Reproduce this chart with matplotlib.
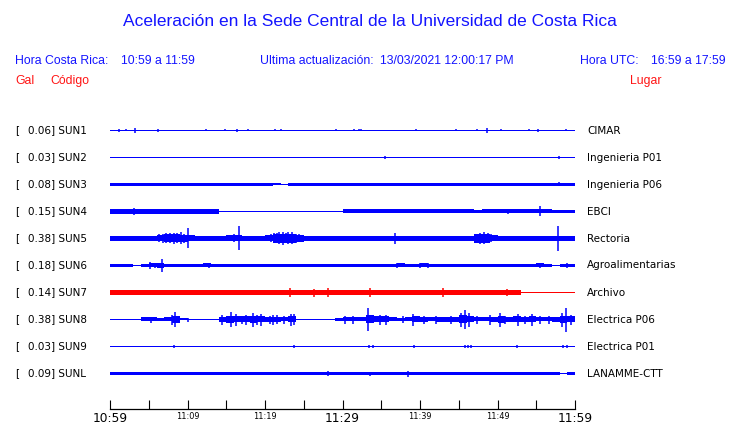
import matplotlib
matplotlib.use('Agg')
import matplotlib.pyplot as plt
import numpy as np

# ---------------- data ----------------
codes = ['SUN1', 'SUN2', 'SUN3', 'SUN4', 'SUN5', 'SUN6', 'SUN7', 'SUN8', 'SUN9', 'SUNL']
places = ['CIMAR', 'Ingenieria P01', 'Ingenieria P06', 'EBCI', 'Rectoria',
          'Agroalimentarias', 'Archivo', 'Electrica P06', 'Electrica P01', 'LANAMME-CTT']
peak_gal = [0.06, 0.03, 0.08, 0.15, 0.38, 0.18, 0.14, 0.38, 0.03, 0.09]
trace_colors = ['#0000ff'] * 6 + ['#ff0000'] + ['#0000ff'] * 3

tick_minutes = [0, 5, 10, 15, 20, 25, 30, 35, 40, 45, 50, 55, 60]
tick_labels = ['10:59', '', '11:09', '', '11:19', '', '11:29', '', '11:39', '', '11:49', '', '11:59']
big_labels = ['10:59', '11:29', '11:59']

# per-minute envelope half-width (relative amplitude), 60 minutes
sun1_env = [0] * 60
sun2_env = [0] * 60
sun3_env = [1.8, 1.5, 1.1, 1.2, 1.8, 1.8, 1.8, 1.8, 1.8, 1.8,
            1.8, 1.8, 1.8, 1.8, 1.5, 1.5, 1.8, 1.8, 1.8, 1.1,
            1.1, 1.0, 0.9, 1.3, 1.8, 1.8, 1.8, 1.8, 1.8, 1.8,
            1.8, 1.8, 1.8, 1.8, 1.8, 1.8, 1.8, 1.8, 1.8, 1.8,
            1.2, 1.2, 1.1, 1.1, 1.1, 1.2, 1.3, 1.8, 1.8, 1.8,
            1.1, 1.8, 1.8, 1.8, 1.8, 1.8, 1.8, 1.8, 1.8, 1.8]
sun4_env = [2.5, 2.5, 2.4, 2.5, 2.4, 2.4, 2.4, 2.4, 2.4, 2.5,
            2.5, 2.6, 2.5, 2.4, 0, 0, 0, 0, 0, 0,
            0, 0, 0, 0, 0, 0, 0, 0, 0, 0.3,
            2.0, 2.0, 2.0, 2.0, 2.0, 2.0, 2.0, 2.0, 2.0, 2.0,
            2.0, 2.0, 2.0, 2.0, 2.0, 2.0, 2.0, 1.6, 2.0, 2.0,
            2.0, 2.0, 2.0, 2.0, 2.0, 2.0, 2.0, 1.6, 1.5, 1.6]
sun5_env = [2.4, 2.7, 2.4, 2.3, 2.4, 2.3, 3.0, 4.0, 4.0, 3.5,
            3.0, 2.4, 2.4, 2.4, 2.4, 3.0, 3.0, 2.4, 2.3, 2.4,
            3.0, 4.5, 4.5, 4.5, 3.5, 2.4, 2.4, 2.4, 2.6, 2.4,
            2.4, 2.4, 2.4, 2.4, 2.4, 2.4, 2.6, 2.4, 2.4, 2.4,
            2.4, 2.4, 2.4, 2.4, 2.4, 2.4, 2.4, 4.5, 4.5, 3.0,
            2.4, 2.4, 2.4, 2.4, 2.4, 2.4, 2.4, 2.4, 2.4, 2.4]
sun6_env = [1.5, 1.7, 1.7, 0.6, 1.5, 2.0, 2.5, 1.8, 1.8, 1.7,
            1.8, 1.8, 2.0, 1.8, 1.5, 1.7, 1.5, 1.8, 1.8, 1.8,
            1.8, 1.5, 1.7, 1.5, 1.8, 1.8, 1.8, 1.8, 1.8, 1.8,
            1.7, 1.8, 1.8, 1.8, 1.8, 1.7, 1.8, 2.0, 1.8, 1.8,
            2.0, 1.8, 1.5, 1.7, 1.8, 1.8, 1.8, 1.8, 1.8, 1.8,
            1.7, 1.8, 1.8, 1.8, 1.8, 2.0, 1.8, 0.9, 1.5, 1.8]
sun7_env = [2.3, 2.1, 2.1, 2.1, 2.1, 2.1, 2.1, 2.1, 2.1, 2.1,
            2.1, 2.1, 2.1, 2.1, 2.1, 2.1, 2.1, 2.1, 2.1, 2.1,
            2.1, 2.1, 2.1, 2.1, 2.1, 2.1, 2.1, 2.1, 2.1, 2.1,
            2.1, 2.1, 2.1, 2.1, 2.1, 2.1, 2.1, 2.1, 2.1, 2.1,
            2.1, 2.1, 2.1, 2.1, 2.1, 2.1, 2.1, 2.1, 2.1, 2.1,
            2.1, 2.1, 2.1, 0, 0, 0, 0, 0, 0, 0]
sun8_env = [0, 0, 0, 0, 2.0, 2.0, 1.8, 2.0, 3.5, 1.0,
            0.4, 0, 0, 0, 2.5, 3.5, 3.0, 3.0, 3.5, 3.0,
            2.5, 2.5, 2.0, 3.0, 0.5, 0, 0, 0, 0, 1.5,
            2.0, 2.0, 2.0, 4.0, 3.0, 3.0, 2.0, 1.5, 2.0, 3.0,
            2.5, 2.0, 2.5, 2.5, 2.5, 4.0, 3.0, 2.0, 2.0, 2.5,
            3.5, 2.5, 3.0, 2.5, 3.0, 2.0, 2.0, 2.5, 3.5, 3.0]
sun9_env = [0] * 60
sunl_env = [1.7, 1.7, 1.7, 1.7, 1.7, 1.7, 1.7, 1.7, 1.7, 1.7,
            1.7, 1.7, 1.7, 1.7, 1.7, 1.7, 1.7, 1.7, 1.7, 1.6,
            1.7, 1.7, 1.7, 1.7, 1.6, 1.7, 1.7, 1.7, 1.8, 1.6,
            1.7, 1.5, 1.3, 1.5, 1.3, 1.2, 1.3, 1.2, 1.5, 1.2,
            1.1, 1.2, 1.3, 1.1, 1.2, 1.2, 1.1, 1.2, 1.2, 1.1,
            1.2, 1.2, 1.1, 1.2, 1.2, 1.1, 1.1, 1.2, 1.0, 1.1]

# spikes: (minute, half-amplitude)
sun1_spk = [(1.1, 1.5), (2.1, 0.8), (3.2, 2.5), (6.2, 1.2), (12.4, 1.0), (14.9, 0.8),
            (16.4, 1.3), (17.8, 1.0), (21.3, 1.0), (22.1, 1.0), (29.2, 1.0), (31.5, 1.0),
            (32.1, 0.8), (32.4, 1.0), (39.5, 1.0), (44.7, 0.6), (47.4, 1.0), (48.7, 2.5),
            (50.4, 1.0), (54.1, 1.0), (55.2, 1.4), (58.9, 0.7)]
sun2_spk = [(35.5, 1.5), (57.9, 1.5)]
sun3_spk = [(57.9, 2.0)]
sun4_spk = [(3.1, 3.5), (9.9, 2.0), (11.0, 2.2), (11.6, 2.0), (13.0, 2.2), (33.3, 1.8),
            (37.8, 1.8), (43.3, 1.8), (51.4, 2.5), (55.5, 5.0)]
sun5_spk = [(1.2, 2.5), (4.0, 2.5), (6.3, 4.0), (6.8, 4.5), (7.2, 5.0), (7.7, 5.0),
            (8.2, 5.5), (8.7, 5.0), (9.2, 6.0), (9.6, 4.5), (10.1, 10.0), (13.5, 2.5),
            (16.0, 4.0), (16.6, 12.0), (20.8, 4.0), (21.2, 5.0), (21.5, 5.0), (21.8, 6.0),
            (22.3, 6.5), (22.7, 5.0), (23.0, 6.0), (23.5, 6.0), (24.0, 4.5), (24.4, 4.0),
            (28.5, 2.5), (31.6, 2.5), (36.8, 5.5), (47.3, 4.5), (47.8, 5.5), (48.3, 6.0),
            (48.8, 5.0), (49.2, 4.0), (57.8, 12.5)]
sun6_spk = [(2.6, 1.8), (5.2, 4.0), (5.8, 3.0), (6.75, 6.3), (12.8, 2.0), (37.0, 2.0),
            (40.0, 2.0), (41.0, 2.0), (55.5, 3.0), (59.0, 3.0)]
sun7_spk = [(5.5, 2.0), (6.7, 2.0), (10.3, 3.0), (17.4, 2.5), (20.6, 2.0), (23.2, 4.7),
            (24.3, 2.5), (26.3, 4.0), (28.1, 4.5), (33.6, 4.5), (43.0, 4.5), (47.4, 2.5),
            (51.2, 3.5)]
sun8_spk = [(5.3, 3.0), (8.0, 5.0), (8.4, 8.0), (10.0, 2.0), (14.5, 5.0), (15.6, 8.0),
            (16.2, 6.0), (17.0, 4.0), (17.5, 5.0), (18.5, 7.0), (19.0, 5.0), (19.5, 6.0),
            (20.7, 4.0), (21.0, 5.0), (21.6, 4.5), (22.5, 4.0), (23.3, 6.0), (23.8, 5.5),
            (30.3, 4.0), (31.4, 4.0), (33.3, 11.7), (34.8, 5.0), (35.6, 5.0), (37.8, 3.5),
            (39.1, 6.0), (40.5, 4.0), (42.0, 4.0), (44.0, 4.0), (45.3, 7.0), (45.8, 9.5),
            (46.3, 7.0), (47.3, 4.0), (49.0, 5.0), (50.3, 7.0), (51.0, 4.0), (52.6, 6.0),
            (53.5, 4.0), (54.5, 6.0), (55.5, 4.0), (56.7, 4.0), (58.3, 7.0), (58.8, 12.0),
            (59.5, 5.0)]
sun9_spk = [(8.3, 1.5), (14.9, 1.0), (15.6, 1.0), (17.0, 1.0), (17.6, 1.0), (18.5, 1.0),
            (19.6, 1.0), (23.7, 1.5), (33.4, 1.5), (33.9, 1.2), (35.0, 1.0), (39.2, 1.5),
            (45.8, 1.5), (46.2, 1.5), (46.6, 1.5), (49.7, 1.0), (50.2, 1.0), (52.5, 1.2),
            (54.5, 1.0), (58.5, 1.3), (59.0, 1.3)]
sunl_spk = [(28.1, 2.5), (33.5, 2.0), (38.5, 3.0)]

envelopes = [sun1_env, sun2_env, sun3_env, sun4_env, sun5_env,
             sun6_env, sun7_env, sun8_env, sun9_env, sunl_env]
spikes = [sun1_spk, sun2_spk, sun3_spk, sun4_spk, sun5_spk,
          sun6_spk, sun7_spk, sun8_spk, sun9_spk, sunl_spk]

# ---------------- figure ----------------
W, H = 740, 423
fig = plt.figure(figsize=(W / 100, H / 100), dpi=100)
fig.patch.set_facecolor('white')

ax_left, ax_right = 110, 575
ax_top, ax_bottom = 118, 409
ax = fig.add_axes([ax_left / W, (H - ax_bottom) / H,
                   (ax_right - ax_left) / W, (ax_bottom - ax_top) / H])
spacing_px = 27.0
first_center = 130.5
y_top = -(first_center - ax_top) / spacing_px
y_bot = (ax_bottom - first_center) / spacing_px
ax.set_xlim(0, 60)
ax.set_ylim(y_bot, y_top)

scale = 1.0 / spacing_px          # amplitude unit = one pixel
min_half = 0.5 * scale            # one-pixel baseline
minutes = np.arange(61)
for i, (env, spk, col) in enumerate(zip(envelopes, spikes, trace_colors)):
    e = np.maximum(np.array(env + [env[-1]], dtype=float) * scale, min_half)
    ax.fill_between(minutes, i - e, i + e, step='post', color=col, lw=0)
    if spk:
        ts = [s[0] for s in spk]
        amps = [max(s[1], 1.0) * scale for s in spk]
        ax.vlines(ts, [i - a for a in amps], [i + a for a in amps], color=col, lw=1.1)

for s in ['top', 'left', 'right']:
    ax.spines[s].set_visible(False)
ax.spines['bottom'].set_linewidth(0.9)
ax.set_yticks([])
ax.set_xticks(tick_minutes)
ax.set_xticklabels(tick_labels, family='DejaVu Sans')
ax.tick_params(axis='x', direction='in', length=6.5, width=0.8, pad=2, color='black')
for lab in ax.get_xticklabels():
    lab.set_fontsize(8.8 if lab.get_text() in big_labels else 5.9)
ax.patch.set_alpha(0)

# ---------------- texts ----------------
def fx(px):
    return px / W

def fy(py):
    return 1 - py / H

blue = '#1414ff'
red = '#ff1414'
hdr = dict(family='Liberation Sans', fontsize=8.8, color=blue, va='center', ha='left')
fig.text(0.5, fy(22), 'Aceleración en la Sede Central de la Universidad de Costa Rica',
         family='Liberation Sans', fontsize=12.5, color=blue, ha='center', va='center')
fig.text(fx(15), fy(61), 'Hora Costa Rica:', **hdr)
fig.text(fx(121), fy(61), '10:59 a 11:59', **hdr)
fig.text(fx(260), fy(61), 'Ultima actualización:', **hdr)
fig.text(fx(380), fy(61), '13/03/2021 12:00:17 PM', **hdr)
fig.text(fx(580), fy(61), 'Hora UTC:', **hdr)
fig.text(fx(651), fy(61), '16:59 a 17:59', **hdr)
hdr_r = dict(hdr, color=red)
fig.text(fx(15), fy(81), 'Gal', **hdr_r)
fig.text(fx(50), fy(81), 'Código', **hdr_r)
fig.text(fx(630), fy(81), 'Lugar', **hdr_r)

lab = dict(family='DejaVu Sans', fontsize=7.5, color='black', va='center', ha='left')
for i in range(len(codes)):
    yc = first_center + i * spacing_px
    fig.text(fx(15), fy(yc), '[', **lab)
    fig.text(fx(28), fy(yc), f'{peak_gal[i]:.2f}] {codes[i]}', **lab)
    fig.text(fx(587), fy(yc), places[i], **lab)

fig.savefig('out.png', dpi=100)
